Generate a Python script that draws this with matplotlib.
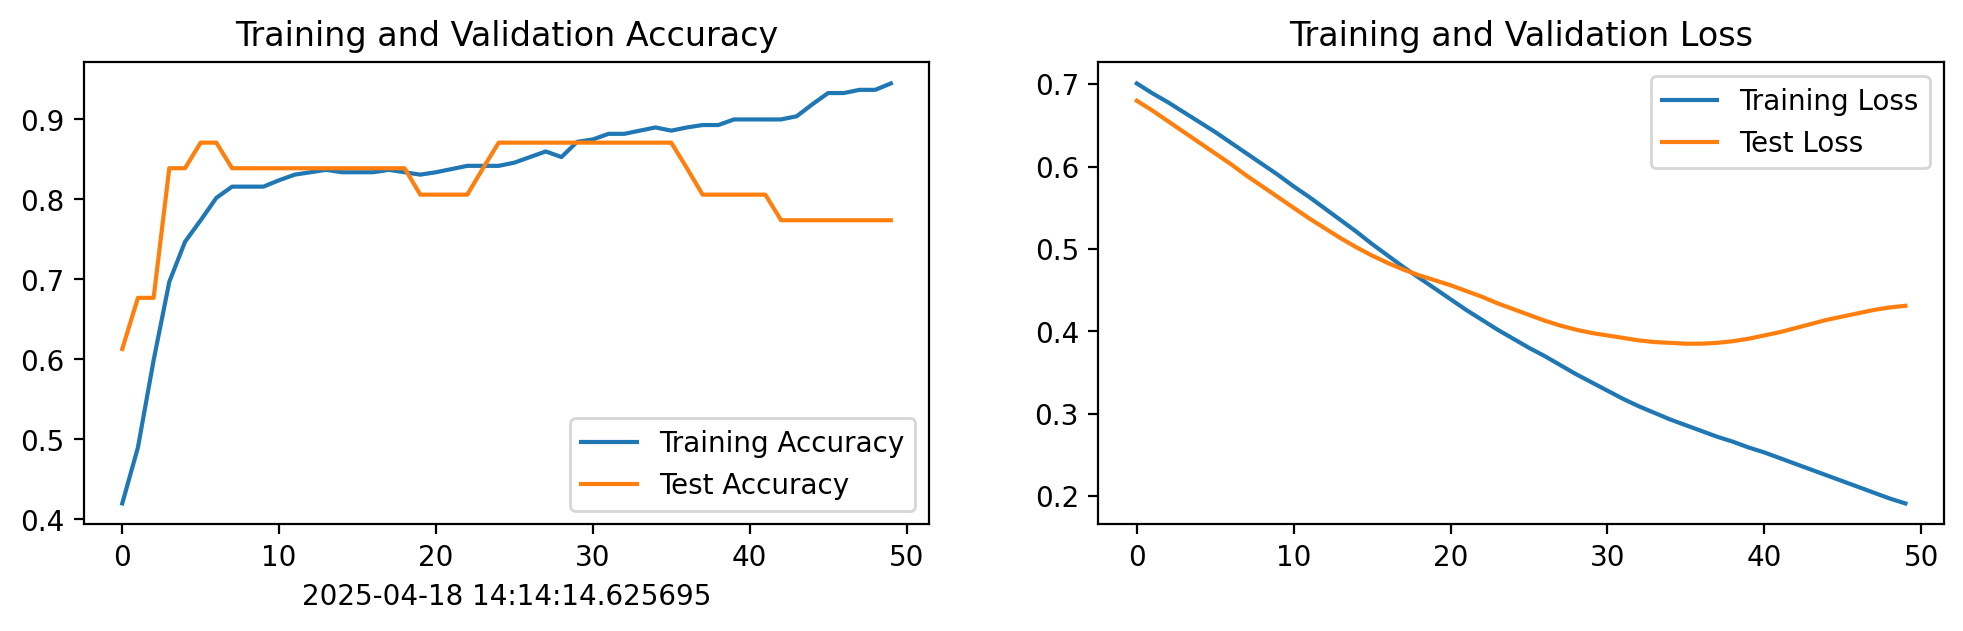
import matplotlib
matplotlib.use("Agg")
import matplotlib.pyplot as plt

# per-epoch history
epochs = list(range(50))

train_acc = [0.420, 0.490, 0.599, 0.697, 0.747, 0.774, 0.802, 0.816, 0.816, 0.816,
             0.824, 0.831, 0.834, 0.837, 0.834, 0.834, 0.834, 0.837, 0.834, 0.831,
             0.834, 0.838, 0.842, 0.842, 0.842, 0.846, 0.853, 0.860, 0.853, 0.872,
             0.875, 0.882, 0.882, 0.886, 0.890, 0.886, 0.890, 0.893, 0.893, 0.900,
             0.900, 0.900, 0.900, 0.904, 0.919, 0.933, 0.933, 0.937, 0.937, 0.945]

test_acc = [0.613, 0.677, 0.677, 0.839, 0.839, 0.871, 0.871, 0.839, 0.839, 0.839,
            0.839, 0.839, 0.839, 0.839, 0.839, 0.839, 0.839, 0.839, 0.839, 0.806,
            0.806, 0.806, 0.806, 0.839, 0.871, 0.871, 0.871, 0.871, 0.871, 0.871,
            0.871, 0.871, 0.871, 0.871, 0.871, 0.871, 0.839, 0.806, 0.806, 0.806,
            0.806, 0.806, 0.774, 0.774, 0.774, 0.774, 0.774, 0.774, 0.774, 0.774]

train_loss = [0.701, 0.689, 0.678, 0.666, 0.654, 0.642, 0.629, 0.616, 0.603, 0.590,
              0.576, 0.563, 0.549, 0.535, 0.521, 0.506, 0.492, 0.478, 0.465, 0.452,
              0.439, 0.426, 0.414, 0.402, 0.391, 0.380, 0.370, 0.359, 0.348, 0.338,
              0.328, 0.318, 0.309, 0.301, 0.293, 0.286, 0.279, 0.272, 0.266, 0.259,
              0.253, 0.246, 0.239, 0.232, 0.225, 0.218, 0.211, 0.204, 0.197, 0.191]

test_loss = [0.680, 0.668, 0.655, 0.642, 0.629, 0.616, 0.603, 0.589, 0.576, 0.563,
             0.550, 0.537, 0.525, 0.513, 0.502, 0.492, 0.483, 0.475, 0.468, 0.462,
             0.456, 0.449, 0.442, 0.434, 0.427, 0.420, 0.413, 0.407, 0.402, 0.398,
             0.395, 0.392, 0.389, 0.387, 0.386, 0.385, 0.385, 0.386, 0.388, 0.391,
             0.395, 0.399, 0.404, 0.409, 0.414, 0.418, 0.422, 0.426, 0.429, 0.431]

timestamp = "2025-04-18 14:14:14.625695"

plt.figure(figsize=(12, 3))

plt.subplot(1, 2, 1)
plt.plot(epochs, train_acc, label='Training Accuracy')
plt.plot(epochs, test_acc, label='Test Accuracy')
plt.legend(loc='lower right')
plt.title('Training and Validation Accuracy')
plt.xlabel(timestamp)

plt.subplot(1, 2, 2)
plt.plot(epochs, train_loss, label='Training Loss')
plt.plot(epochs, test_loss, label='Test Loss')
plt.legend(loc='upper right')
plt.title('Training and Validation Loss')

plt.savefig("out.png", dpi=200, bbox_inches='tight')
plt.close()
